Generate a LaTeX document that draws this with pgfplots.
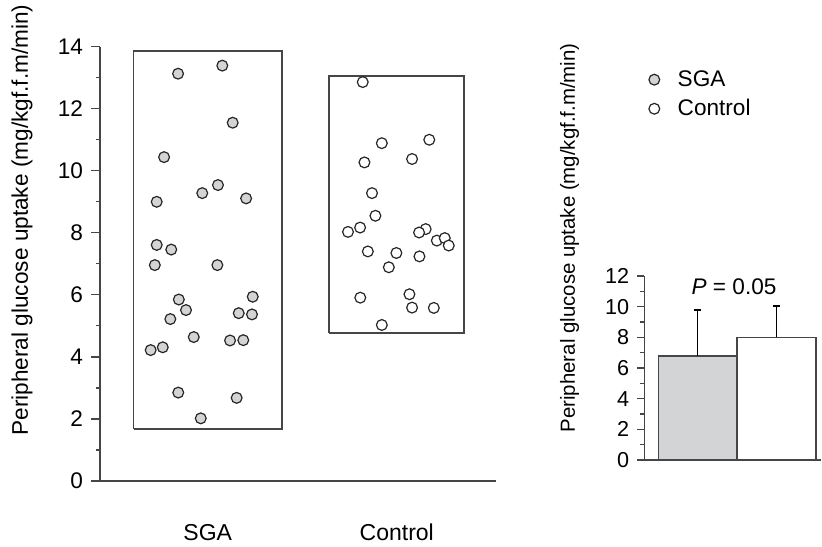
\documentclass[border=0pt]{standalone}
\usepackage{fontspec}
\setmainfont{Liberation Sans}
\usepackage{pgfplots}
\pgfplotsset{compat=1.18}
\definecolor{sgafill}{RGB}{211,212,214}
\definecolor{axgray}{RGB}{70,70,70}
\begin{document}
\begin{tikzpicture}
\useasboundingbox (0,0) rectangle (411pt,273pt);
% ---------------- left panel ----------------
\begin{axis}[
  at={(50pt,32.5pt)}, anchor=south west,
  scale only axis, width=198pt, height=217.15pt,
  xmin=0.43, xmax=2.525, ymin=0, ymax=14,
  axis x line=bottom, axis y line=left,
  axis line style={-, axgray, line width=0.7pt},
  xtick={1,2}, xticklabels={SGA,Control},
  x tick style={draw=none},
  xticklabel style={font=\fontsize{11.5}{13}\selectfont, yshift=-13.5pt},
  ytick={0,2,...,14}, minor ytick={1,3,...,13},
  tick align=outside,
  major tick length=4.5pt, minor tick length=2.2pt,
  y tick style={axgray, line width=0.6pt},
  yticklabel style={font=\fontsize{11.3}{13}\selectfont, xshift=-0.5pt},
  /pgf/number format/assume math mode=true,
  ylabel={Peripheral glucose uptake (mg/kgf.f.m/min)},
  ylabel style={at={(axis description cs:-0.197,0.601)}, anchor=center, font=\fontsize{11.3}{13}\selectfont},
  clip=false,
  legend style={at={(axis description cs:1.37,0.965)}, anchor=north west, draw=none, fill=none,
    font=\fontsize{11.3}{13}\selectfont, row sep=1pt, column sep=7pt},
  legend cell align=left,
]
\addplot[axgray, line width=0.8pt, forget plot] coordinates {(0.608,1.67) (1.392,1.67) (1.392,13.87) (0.608,13.87) (0.608,1.67)};
\addplot[axgray, line width=0.8pt, forget plot] coordinates {(1.643,4.78) (2.356,4.78) (2.356,13.06) (1.643,13.06) (1.643,4.78)};
\addplot[only marks, mark=*, mark size=2.7pt, mark options={draw=black!85, fill=sgafill, line width=0.6pt}] coordinates {
(0.843,13.13) (1.077,13.39) (1.132,11.55) (0.769,10.44) (1.054,9.54) (0.971,9.28)
(1.203,9.11) (0.730,9.00) (0.730,7.61) (0.807,7.46) (0.720,6.96) (1.051,6.96)
(0.847,5.85) (1.238,5.94) (0.885,5.51) (1.164,5.41) (1.234,5.37) (0.802,5.22)
(0.926,4.64) (1.118,4.53) (1.188,4.54) (0.762,4.31) (0.698,4.22) (0.844,2.85)
(1.153,2.68) (0.963,2.02)};
\addlegendentry{SGA}
\addplot[only marks, mark=*, mark size=2.7pt, mark options={draw=black!85, fill=white, line width=0.6pt}] coordinates {
(1.820,12.86) (2.172,11.00) (1.921,10.89) (1.829,10.27) (2.081,10.38) (1.869,9.28)
(1.887,8.55) (1.806,8.17) (1.742,8.03) (2.153,8.12) (2.118,8.01) (2.212,7.75)
(2.254,7.83) (2.275,7.59) (1.847,7.40) (1.998,7.35) (2.120,7.24) (1.958,6.89)
(1.807,5.91) (2.067,6.02) (2.081,5.59) (2.196,5.58) (1.921,5.03)};
\addlegendentry{Control}
\end{axis}
% ---------------- right panel ----------------
\begin{axis}[
  at={(322.15pt,43pt)}, anchor=south west,
  scale only axis, width=88.35pt, height=92pt,
  xmin=0.32, xmax=2.565, ymin=0, ymax=12,
  axis x line=bottom, axis y line=left,
  axis line style={-, axgray, line width=0.7pt},
  xtick=\empty,
  ytick={0,2,...,12}, minor ytick={1,3,...,11},
  tick align=outside,
  major tick length=3.6pt, minor tick length=2pt,
  y tick style={axgray, line width=0.6pt},
  yticklabel style={font=\fontsize{10.8}{12}\selectfont, xshift=-0.5pt},
  /pgf/number format/assume math mode=true,
  ylabel={Peripheral glucose uptake (mg/kgf.f.m/min)},
  ylabel style={at={(axis description cs:-0.423,1.207)}, anchor=center, font=\fontsize{10.2}{12}\selectfont},
  clip=false,
]
\addplot[ybar, bar width=39.35pt, bar shift=0pt, fill=sgafill, draw=axgray, line width=0.7pt,
  error bars/.cd, y dir=plus, y explicit,
  error bar style={black, line width=0.6pt},
  error mark options={rotate=90, black, line width=0.6pt, mark size=1.8pt}]
  coordinates {(1,6.78) +- (0,3.0)};
\addplot[ybar, bar width=39.35pt, bar shift=0pt, fill=white, draw=axgray, line width=0.7pt,
  error bars/.cd, y dir=plus, y explicit,
  error bar style={black, line width=0.6pt},
  error mark options={rotate=90, black, line width=0.6pt, mark size=1.8pt}]
  coordinates {(2,8.0) +- (0,2.04)};
\node[font=\fontsize{11.3}{13}\selectfont] at (axis cs:1.46,11.3) {\textit{P} = 0.05};
\end{axis}
\end{tikzpicture}
\end{document}
